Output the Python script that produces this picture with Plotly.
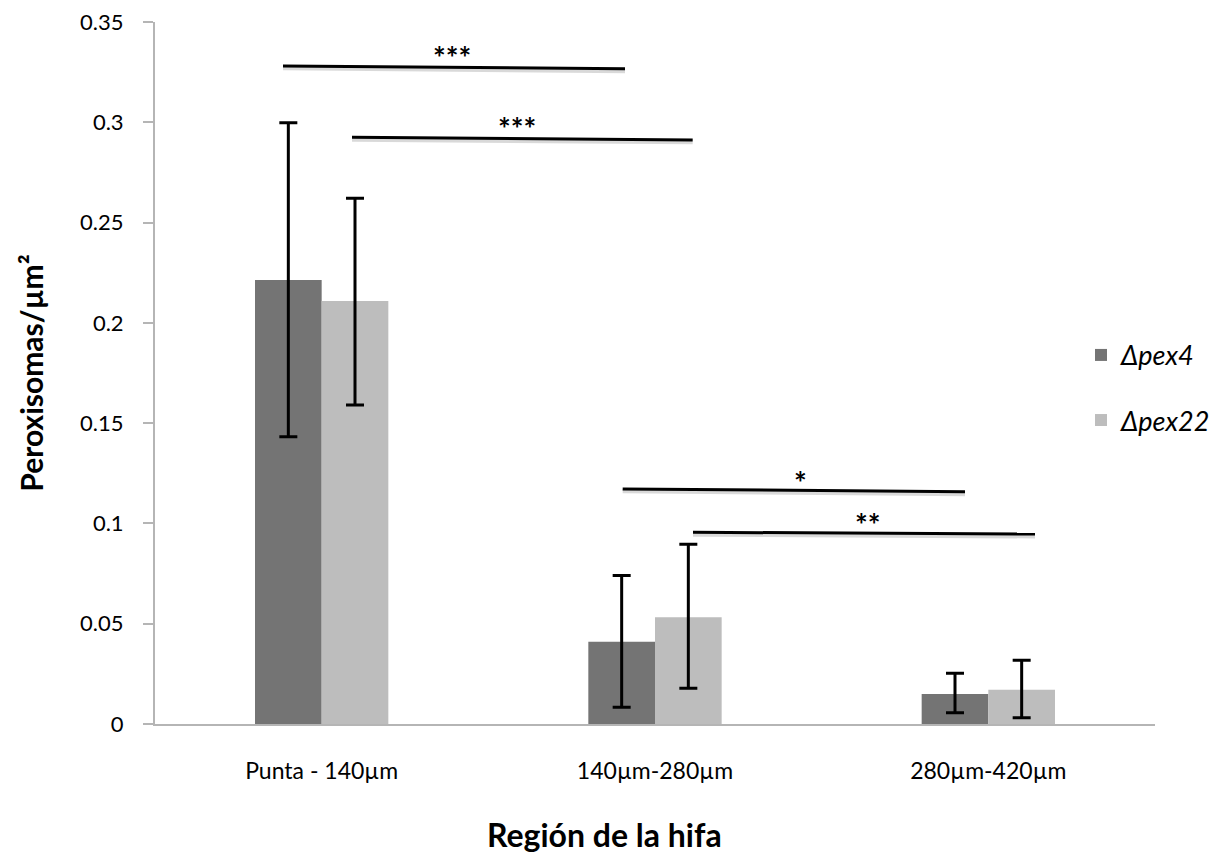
import plotly.graph_objects as go

categories = ["Punta - 140µm", "140µm-280µm", "280µm-420µm"]
series_names = ["Δpex4", "Δpex22"]
pex4_values = [0.2214, 0.0410, 0.0150]
pex4_err_plus = [0.0784, 0.0331, 0.0103]
pex4_err_minus = [0.0782, 0.0327, 0.0094]
pex22_values = [0.2109, 0.0532, 0.0171]
pex22_err_plus = [0.0512, 0.0364, 0.0147]
pex22_err_minus = [0.0519, 0.0354, 0.0140]
y_ticks = [0, 0.05, 0.1, 0.15, 0.2, 0.25, 0.3, 0.35]
y_tick_labels = ["0", "0.05", "0.1", "0.15", "0.2", "0.25", "0.3", "0.35"]

# significance brackets: (x0, y0, x1, y1) in category / data units, and labels
sig_x0 = [-0.116, 0.091, 0.903, 1.114]
sig_y0 = [0.3281, 0.2925, 0.1172, 0.0956]
sig_x1 = [0.910, 1.113, 1.930, 2.140]
sig_y1 = [0.3267, 0.2912, 0.1158, 0.0947]
sig_labels = ["***", "***", "*", "**"]
sig_label_x = [0.391, 0.585, 1.435, 1.639]
sig_label_y = [0.3327, 0.2973, 0.1208, 0.0997]

FONT = "Lato"
colors = ["#747474", "#bdbdbd"]

fig = go.Figure()
for name, vals, ep, em, col, grp in [
    (series_names[0], pex4_values, pex4_err_plus, pex4_err_minus, colors[0], "a"),
    (series_names[1], pex22_values, pex22_err_plus, pex22_err_minus, colors[1], "b"),
]:
    fig.add_trace(go.Bar(
        x=categories, y=vals, name=f"<i>{name}</i>", marker=dict(color=col, line=dict(width=0)),
        legendgroup=grp,
        error_y=dict(type="data", symmetric=False, array=ep, arrayminus=em,
                     color="#000000", thickness=3, width=9),
    ))

shapes = []
for x0, y0, x1, y1 in zip(sig_x0, sig_y0, sig_x1, sig_y1):
    shapes.append(dict(type="line", xref="x", yref="y", x0=x0, y0=y0 - 0.0012, x1=x1, y1=y1 - 0.0012,
                       line=dict(color="rgba(0,0,0,0.15)", width=4), layer="above"))
    shapes.append(dict(type="line", xref="x", yref="y", x0=x0, y0=y0, x1=x1, y1=y1,
                       line=dict(color="#000000", width=3), layer="above"))

annotations = []
for t, x, y in zip(sig_labels, sig_label_x, sig_label_y):
    annotations.append(dict(text=f"<b>{t}</b>", x=x, y=y, xref="x", yref="y", showarrow=False,
                            font=dict(family=FONT, size=30, color="#000000")))
# x-axis title (centred on the chart area, as in the reference)
annotations.append(dict(text="<b>Región de la hifa</b>", x=0.449, y=-0.157, xref="paper", yref="paper",
                        xanchor="center", yanchor="middle", showarrow=False,
                        font=dict(family=FONT, size=32, color="#000000")))

# the page adds an 8px body margin, so margins are compensated for it
fig.update_layout(
    width=1226, height=855,
    margin=dict(l=147, r=79, t=14, b=139, autoexpand=False),
    paper_bgcolor="white", plot_bgcolor="white",
    barmode="group", bargap=0.6, bargroupgap=0,
    font=dict(family=FONT, size=22, color="#000000"),
    shapes=shapes, annotations=annotations,
    legend=dict(x=0.926, y=0.56, xanchor="left", yanchor="top",
                font=dict(family=FONT, size=27, color="#000000"),
                tracegroupgap=27, bgcolor="rgba(0,0,0,0)"),
    xaxis=dict(
        type="category", range=[-0.5, 2.5], automargin=False,
        showline=True, linecolor="#b5b5b5", linewidth=2,
        ticks="", showgrid=False, zeroline=False,
        tickfont=dict(family=FONT, size=23), ticklabelstandoff=25,
    ),
    yaxis=dict(
        range=[0, 0.35], tickvals=y_ticks, ticktext=y_tick_labels, automargin=False,
        showline=True, linecolor="#b5b5b5", linewidth=2,
        ticks="outside", ticklen=10, tickcolor="#b5b5b5", tickwidth=2,
        showgrid=False, zeroline=False, ticklabeloverflow="allow",
        tickfont=dict(family=FONT, size=22), ticklabelstandoff=15,
        title=dict(text="<b>Peroxisomas/µm²</b>", font=dict(family=FONT, size=30), standoff=28),
    ),
)

fig.write_html("out.html", config={"displayModeBar": False})
